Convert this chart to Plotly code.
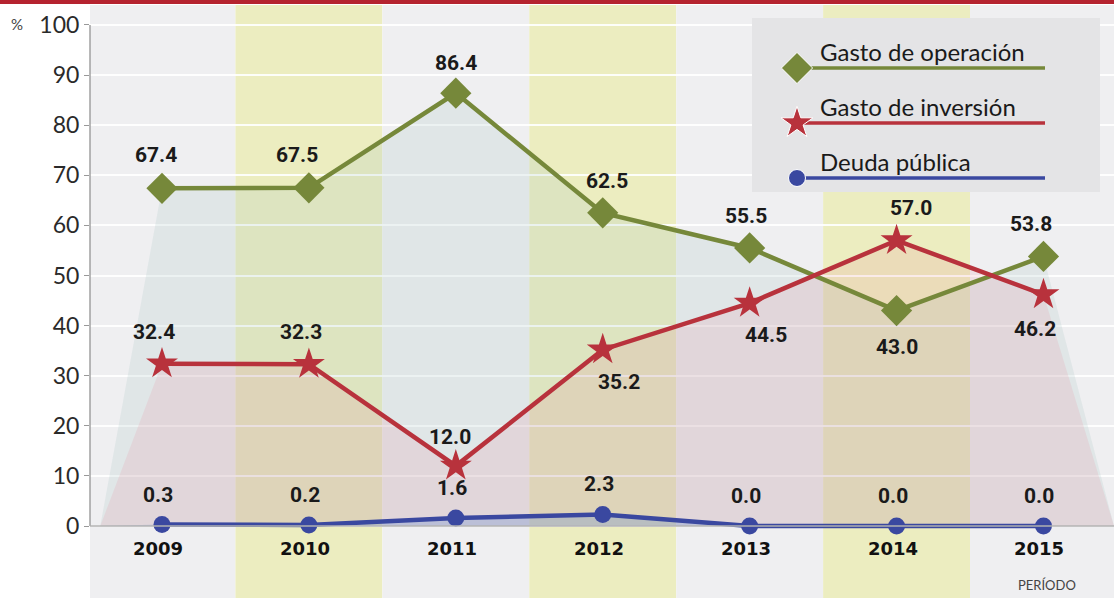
import plotly.graph_objects as go

years = ["2009", "2010", "2011", "2012", "2013", "2014", "2015"]
gasto_operacion = [67.4, 67.5, 86.4, 62.5, 55.5, 43.0, 53.8]
gasto_inversion = [32.4, 32.3, 12.0, 35.2, 44.5, 57.0, 46.2]
deuda_publica = [0.3, 0.2, 1.6, 2.3, 0.0, 0.0, 0.0]
series_names = ["Gasto de operación", "Gasto de inversión", "Deuda pública"]
y_ticks = list(range(0, 101, 10))

GREEN = "#76883a"
RED = "#b8323c"
BLUE = "#3a48a0"

W, H = 1114, 598
L, R, T, B = 90, 0, 5, 0
XR = [-0.49, 6.48]
YR = [-14.37, 103.99]
xs = list(range(len(years)))

def px2x(px):
    return XR[0] + (px - L) / (W - L - R) * (XR[1] - XR[0])

def px2y(py):
    return YR[0] + (H - B - py) / (H - T - B) * (YR[1] - YR[0])

def ppx(px):
    return (px - L) / (W - L - R)

def ppy(py):
    return (H - B - py) / (H - T - B)

fig = go.Figure()

# background bands
shapes = []
for i in xs:
    col = "#ecedc0" if i % 2 == 1 else "#efeff1"
    shapes.append(dict(type="rect", xref="x", yref="paper", x0=i - 0.5, x1=i + 0.5,
                       y0=0, y1=1, fillcolor=col, line_width=0, layer="below"))
# top red bar
shapes.append(dict(type="rect", xref="paper", yref="paper", x0=ppx(0), x1=ppx(W),
                   y0=ppy(4), y1=ppy(-2), fillcolor="#b5232f", line_width=0))
# axis lines
shapes.append(dict(type="line", xref="paper", yref="y", x0=0, x1=0, y0=0, y1=100,
                   line=dict(color="#a0a0a0", width=1.5)))
shapes.append(dict(type="line", xref="paper", yref="y", x0=0, x1=1, y0=0, y1=0,
                   line=dict(color="#b0b0b0", width=1.5)))

# filled areas (with side wedges down to zero)
def area(vals, fillcol):
    fx = [-0.42] + xs + [6.48]
    fy = [0] + vals + [0]
    fig.add_trace(go.Scatter(x=fx, y=fy, mode="none", fill="tozeroy",
                             fillcolor=fillcol, hoverinfo="skip", showlegend=False))

area(gasto_operacion, "rgba(165,195,195,0.20)")
area(gasto_inversion, "rgba(235,120,140,0.14)")
area(deuda_publica, "rgba(100,140,210,0.30)")

# lines
fig.add_trace(go.Scatter(x=xs, y=gasto_operacion, mode="lines+markers", name=series_names[0],
                         line=dict(color=GREEN, width=4.5),
                         marker=dict(symbol="diamond", size=24, color=GREEN), showlegend=False))
fig.add_trace(go.Scatter(x=xs, y=gasto_inversion, mode="lines+markers", name=series_names[1],
                         line=dict(color=RED, width=4.5),
                         marker=dict(symbol="star", size=24, color=RED), showlegend=False))
fig.add_trace(go.Scatter(x=xs, y=deuda_publica, mode="lines+markers", name=series_names[2],
                         line=dict(color=BLUE, width=4.5),
                         marker=dict(symbol="circle", size=17, color=BLUE), showlegend=False))

annotations = []
LBL_FONT = dict(family="Roboto, DejaVu Sans, sans-serif", size=21, color="#1a1a1a")

def lbls(vals, shifts, xshifts=None):
    for i, v in enumerate(vals):
        annotations.append(dict(x=i, y=v, xref="x", yref="y", text="<b>%.1f</b>" % v,
                                showarrow=False, font=LBL_FONT, yshift=shifts[i],
                                xshift=(xshifts[i] if xshifts else 0)))

lbls(gasto_operacion, [33, 33, 30, 32, 32, -36, 32], [-6, -12, 0, 4, -4, 0, -12])
lbls(gasto_inversion, [32, 32, 29, -32, -32, 32, -34], [-8, -8, -6, 16, 16, 14, -8])
lbls(deuda_publica, [30, 30, 30, 30, 30, 30, 30], [-4, -4, -4, -4, -4, -4, -4])

# year labels
for i, yv in enumerate(years):
    annotations.append(dict(x=i, y=px2y(548), xref="x", yref="y", text="<b>%s</b>" % yv,
                            showarrow=False, xshift=-4,
                            font=dict(family="DejaVu Sans, sans-serif", size=18, color="#111")))

annotations.append(dict(x=ppx(1047), y=ppy(585), xref="paper", yref="paper", text="PERÍODO",
                        xanchor="center", yanchor="middle", showarrow=False,
                        font=dict(family="Lato, Open Sans, sans-serif", size=13, color="#444")))
annotations.append(dict(x=ppx(17), y=ppy(24), xref="paper", yref="paper", text="%",
                        xanchor="center", yanchor="middle", showarrow=False,
                        font=dict(family="Lato, sans-serif", size=15, color="#444")))

# legend (drawn with traces so it sits over the chart)
bx0, bx1, by0, by1 = px2x(752), px2x(1100), px2y(192), px2y(18)
fig.add_trace(go.Scatter(x=[bx0, bx1, bx1, bx0, bx0], y=[by0, by0, by1, by1, by0],
                         mode="none", fill="toself", fillcolor="#e4e4e6",
                         hoverinfo="skip", showlegend=False))
leg_rows = [68, 123, 178]
leg_cols = [GREEN, RED, BLUE]
leg_syms = ["diamond", "star", "circle"]
leg_sizes = [24, 24, 17]
for k in range(3):
    fig.add_trace(go.Scatter(x=[px2x(797), px2x(1045)], y=[px2y(leg_rows[k])] * 2,
                             mode="lines", line=dict(color=leg_cols[k], width=3.5),
                             hoverinfo="skip", showlegend=False))
    annotations.append(dict(x=px2x(818), y=px2y(leg_rows[k] - 17), xref="x", yref="y",
                            text=series_names[k], showarrow=False, xanchor="left",
                            font=dict(family="Lato, Open Sans, sans-serif", size=24, color="#1a1a1a")))
fig.add_trace(go.Scatter(x=[px2x(797)] * 3, y=[px2y(r) for r in leg_rows], mode="markers",
                         marker=dict(symbol=leg_syms, size=leg_sizes, color=leg_cols, opacity=1),
                         hoverinfo="skip", showlegend=False))

fig.update_layout(
    width=W, height=H,
    margin=dict(l=L, r=R, t=T, b=B, autoexpand=False),
    paper_bgcolor="white", plot_bgcolor="white",
    shapes=shapes, annotations=annotations,
    showlegend=False,
    xaxis=dict(range=XR, showgrid=False, zeroline=False, showticklabels=False,
               fixedrange=True, automargin=False),
    yaxis=dict(range=YR, tickvals=y_ticks, ticktext=[str(t) for t in y_ticks],
               showgrid=True, gridcolor="rgba(255,255,255,0.9)", gridwidth=1.5, zeroline=False,
               ticks="outside", ticklen=5, tickcolor="#999", automargin=False,
               tickfont=dict(family="Lato, Open Sans, sans-serif", size=23, color="#2a2a2a")),
)

fig.write_html("out.html", config={"displayModeBar": False},
               post_script="document.body.style.margin='0';document.body.style.padding='0';")
